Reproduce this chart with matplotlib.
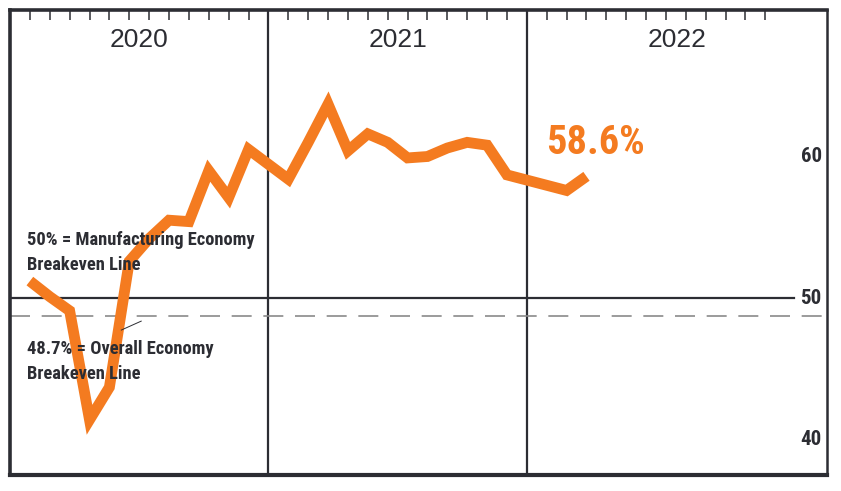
import matplotlib
matplotlib.use("Agg")
import matplotlib.pyplot as plt
from matplotlib import font_manager as fm

# PMI readings
years = ["2020", "2021", "2022"]
pmi_2020 = [51.2, 50.1, 49.1, 41.4, 43.7, 52.6, 54.2, 55.5, 55.4, 59.0, 57.1, 60.5]
pmi_2021 = [58.4, 61.0, 63.7, 60.4, 61.6, 61.0, 59.9, 60.0, 60.6, 61.0, 60.8, 58.7]
pmi_2022 = [57.6, 58.6]
months_2020 = list(range(1, 13))
months_2021 = list(range(1, 13))
months_2022 = [2, 3]  # the chart draws the 2022 points on these ticks
latest_label = "58.6%"
manuf_breakeven = 50
overall_breakeven = 48.7
y_labels = [40, 50, 60]

ORANGE = "#F47B20"
DARK = "#2c2d33"
GREY = "#8a8a8a"


def pick_narrow_font():
    # want a condensed bold face, fall back to whatever is there
    names = {f.name for f in fm.fontManager.ttflist}
    for n in ["Liberation Sans Narrow", "Roboto Condensed", "Open Sans Condensed", "DejaVu Sans Condensed"]:
        if n in names:
            return fm.FontProperties(family=n, weight="bold")
    for f in fm.fontManager.ttflist:
        if f.name == "DejaVu Sans" and f.stretch == "condensed" and f.weight in ("bold", 700):
            return fm.FontProperties(fname=f.fname)
    return fm.FontProperties(family="DejaVu Sans", weight="bold", stretch="condensed")


narrow = pick_narrow_font()

SLOTS = 13  # 12 months + one empty slot per year
x_2020 = [m for m in months_2020]
x_2021 = [SLOTS + m for m in months_2021]
x_2022 = [2 * SLOTS + m for m in months_2022]
xs = x_2020 + x_2021 + x_2022
ys = pmi_2020 + pmi_2021 + pmi_2022

fig = plt.figure(figsize=(8.41, 4.91), dpi=100)
ax = fig.add_axes([10 / 841, 1 - 475 / 491, 817 / 841, 465 / 491])
ax.set_xlim(0, 41.1)
ax.set_ylim(37.5, 70.35)

# frame
for side, lw in [("left", 2.6), ("bottom", 3.0), ("top", 2.6), ("right", 1.8)]:
    ax.spines[side].set_linewidth(lw)
    ax.spines[side].set_color(DARK)
ax.set_xticks([])
ax.set_yticks([])

# month ticks hanging from the top
tick_x = [i * SLOTS + m for i in range(len(years)) for m in range(1, 13)]
for tx in tick_x:
    ax.plot([tx, tx], [70.35, 69.65], color=DARK, lw=1.1, solid_capstyle="butt")

# year dividers
for i in range(1, len(years)):
    ax.axvline(i * SLOTS, color=DARK, lw=1.6)

# year labels
year_centers = [6.5, 19.5, (2 * SLOTS + 41.1) / 2]
for yc, yr in zip(year_centers, years):
    ax.text(yc, 68.2, yr, ha="center", va="center", fontsize=19,
            family="Liberation Sans", color=DARK)

# breakeven lines
ax.plot([0, 39.45], [manuf_breakeven] * 2, color=DARK, lw=1.6)
ax.axhline(overall_breakeven, color=GREY, lw=1.2, dashes=(12, 7))

# PMI line
ax.plot(xs, ys, color=ORANGE, lw=7.8, solid_joinstyle="miter", solid_capstyle="butt")

ax.text(26.95, 60.95, latest_label, color=ORANGE, fontproperties=narrow,
        fontsize=29, ha="left", va="center")

for v in y_labels:
    ax.text(40.3, v, str(v), fontproperties=narrow, fontsize=15,
            ha="center", va="center", color=DARK)

fig.text(27 / 841, 1 - 252.5 / 491, "50% = Manufacturing Economy\nBreakeven Line",
         fontproperties=narrow, fontsize=13.3, color=DARK, ha="left", va="center",
         linespacing=1.5)
fig.text(27 / 841, 1 - 361.5 / 491, "48.7% = Overall Economy\nBreakeven Line",
         fontproperties=narrow, fontsize=13.3, color=DARK, ha="left", va="center",
         linespacing=1.5)

# little leader from the label to the dashed line
ax.plot([5.6, 6.6], [47.74, 48.37], color=DARK, lw=0.7)

fig.savefig("out.png", dpi=100)
